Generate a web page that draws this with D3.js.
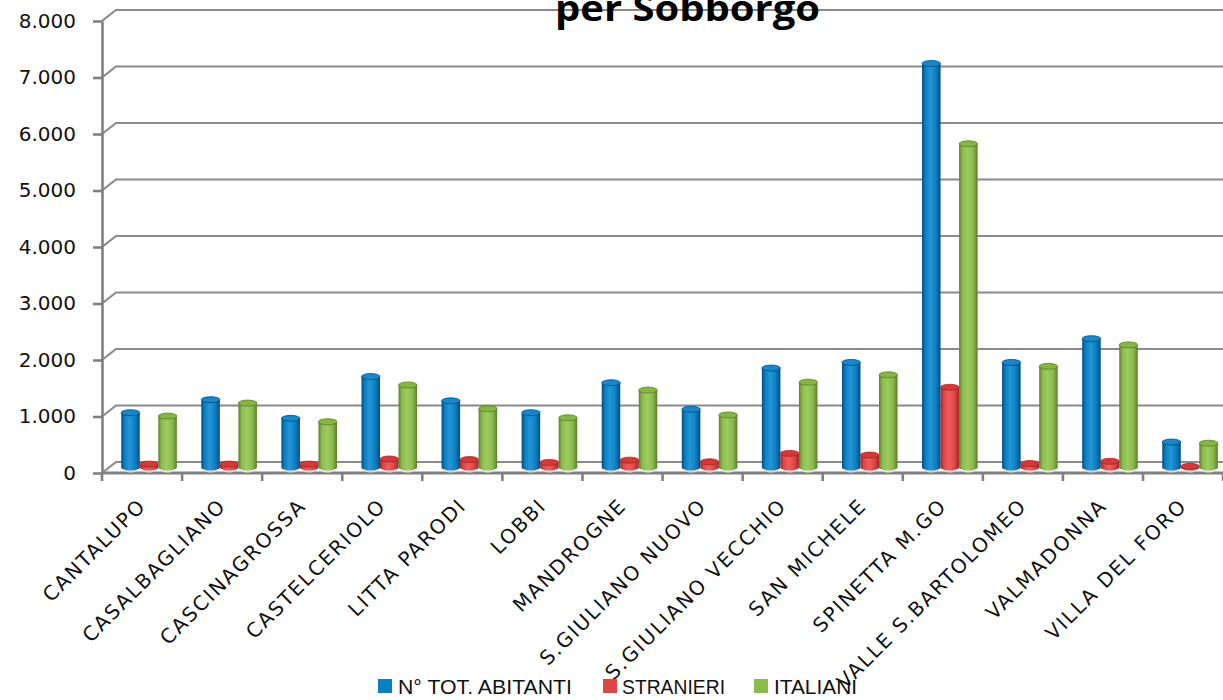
<!DOCTYPE html>
<html><head><meta charset="utf-8">
<script src="https://cdn.jsdelivr.net/npm/d3@7"></script>
<style>body{margin:0;background:#fff}svg{display:block}</style>
</head><body>
<svg id="c" width="1223" height="700"></svg>
<script>
const categories = ["CANTALUPO","CASALBAGLIANO","CASCINAGROSSA","CASTELCERIOLO","LITTA PARODI","LOBBI","MANDROGNE","S.GIULIANO NUOVO","S.GIULIANO VECCHIO","SAN MICHELE","SPINETTA M.GO","VALLE S.BARTOLOMEO","VALMADONNA","VILLA DEL FORO"];
const totAbitanti = [970,1200,870,1610,1180,970,1500,1030,1760,1860,7150,1860,2280,450];
const stranieri   = [60,60,60,150,140,90,130,100,250,220,1420,70,110,20];
const italiani    = [910,1140,810,1460,1040,880,1370,930,1510,1640,5730,1790,2170,430];
const seriesNames = ["N° TOT. ABITANTI","STRANIERI","ITALIANI"];
const yTicks = [0,1000,2000,3000,4000,5000,6000,7000,8000];
const titleText = "per Sobborgo";

const colors = {
  "N° TOT. ABITANTI": {base:"#0a7fc4", dark:"#004d7e", light:"#2596d6", top:"#1a86c8", pale:"#c4def2"},
  "STRANIERI": {base:"#e04545", dark:"#a32525", light:"#ef5e5e", top:"#d23a3a", pale:"#f8cccc"},
  "ITALIANI": {base:"#8bbb4b", dark:"#5a7f2c", light:"#9fcb62", top:"#86b545", pale:"#e0edcd"}
};
const seriesData = [totAbitanti, stranieri, italiani];

const svg = d3.select("#c");
const W = 1223;
const x0 = 102, x1 = 1223.1;
const dx = 14, dy = -11;
const x = d3.scaleBand().domain(categories).range([x0, x1]);
const yF = d3.scaleLinear().domain([0, 8000]).range([473, 21]);
const loc = d3.formatLocale({decimal:",", thousands:".", grouping:[3], currency:["",""]});
const fmt = loc.format(",d");

const defs = svg.append("defs");
seriesNames.forEach((s,i)=>{
  const c = colors[s];
  const g = defs.append("linearGradient").attr("id","g"+i).attr("x1","0").attr("x2","1").attr("y1","0").attr("y2","0");
  g.append("stop").attr("offset","0").attr("stop-color",c.dark);
  g.append("stop").attr("offset","0.18").attr("stop-color",c.base);
  g.append("stop").attr("offset","0.45").attr("stop-color",c.light);
  g.append("stop").attr("offset","0.75").attr("stop-color",c.base);
  g.append("stop").attr("offset","1").attr("stop-color",c.dark);
});

// gridlines (back wall + floor edge)
const grid = svg.append("g");
yTicks.forEach(v=>{
  const yy = yF(v);
  grid.append("path")
    .attr("d", `M${x0},${yy}L${x0+dx},${yy+dy}L${W},${yy+dy}`)
    .attr("fill","none").attr("stroke","#8a8a8a").attr("stroke-width",2.2);
});

// title
svg.append("text").attr("x",555).attr("y",21)
  .attr("textLength",265).attr("lengthAdjust","spacingAndGlyphs")
  .style("font-family","'Open Sans', sans-serif").style("font-weight","bold").style("font-size","36px")
  .text(titleText);

// y axis
const yAxis = d3.axisLeft(yF).tickValues(yTicks).tickFormat(fmt).tickSize(9).tickSizeOuter(0).tickPadding(17);
const ya = svg.append("g").attr("transform",`translate(${x0},0)`).call(yAxis);
ya.select(".domain").attr("stroke","#808080").attr("stroke-width",2.6);
ya.selectAll(".tick line").attr("stroke","#808080").attr("stroke-width",2.6);
ya.selectAll(".tick text").style("font-family","'DejaVu Sans', sans-serif").style("font-size","20px").attr("fill","#111");

// x axis line & ticks
svg.append("line").attr("x1",x0).attr("x2",W).attr("y1",yF(0)).attr("y2",yF(0)).attr("stroke","#808080").attr("stroke-width",3);
const bounds = categories.map(c=>x(c)).concat([x1]);
svg.selectAll(".xt").data(bounds).enter().append("line")
  .attr("x1",d=>d).attr("x2",d=>d).attr("y1",yF(0)).attr("y2",yF(0)+8)
  .attr("stroke","#808080").attr("stroke-width",2.6);

// bars (cylinders)
const yB = v => yF(v) + dy/2;
const groupW = 55.6;
const barsG = svg.append("g");
categories.forEach((c,ci)=>{
  const cx = x(c) + x.bandwidth()/2 + dx/2;
  const sx = d3.scaleBand().domain(seriesNames).range([cx-groupW/2, cx+groupW/2]);
  seriesNames.forEach((s,si)=>{
    const v = seriesData[si][ci];
    const col = colors[s];
    const bx = sx(s), bw = sx.bandwidth();
    const rx = bw/2, ry = 3;
    const yb = yB(0), yt = yB(v);
    barsG.append("ellipse").attr("cx",bx+rx).attr("cy",yb+3).attr("rx",rx*0.6).attr("ry",2).attr("fill",col.pale);
    barsG.append("path")
      .attr("d",`M${bx},${yt}L${bx},${yb}A${rx},${ry} 0 0 0 ${bx+bw},${yb}L${bx+bw},${yt}Z`)
      .attr("fill",`url(#g${si})`);
    barsG.append("ellipse").attr("cx",bx+rx).attr("cy",yt).attr("rx",rx).attr("ry",ry)
      .attr("fill",col.top).attr("stroke",col.dark).attr("stroke-width",0.8);
  });
});

// category labels
svg.selectAll(".cl").data(categories).enter().append("text")
  .attr("transform",d=>`translate(${x(d)+x.bandwidth()/2+5},507) rotate(-45)`)
  .attr("text-anchor","end")
  .style("font-family","'DejaVu Sans', sans-serif").style("font-size","20px").style("letter-spacing","1.8px")
  .attr("fill","#111")
  .text(d=>d);

// legend
const legX = [378, 603, 754], legTX = [398, 622, 774], legLen = [174, 103, 83];
seriesNames.forEach((s,i)=>{
  svg.append("rect").attr("x",legX[i]).attr("y",679).attr("width",14).attr("height",14).attr("fill",colors[s].base);
  svg.append("text").attr("x",legTX[i]).attr("y",694)
    .attr("textLength",legLen[i]).attr("lengthAdjust","spacingAndGlyphs")
    .style("font-family","'Liberation Sans', sans-serif").style("font-size","21px").attr("fill","#111")
    .text(s);
});
</script>
</body></html>
